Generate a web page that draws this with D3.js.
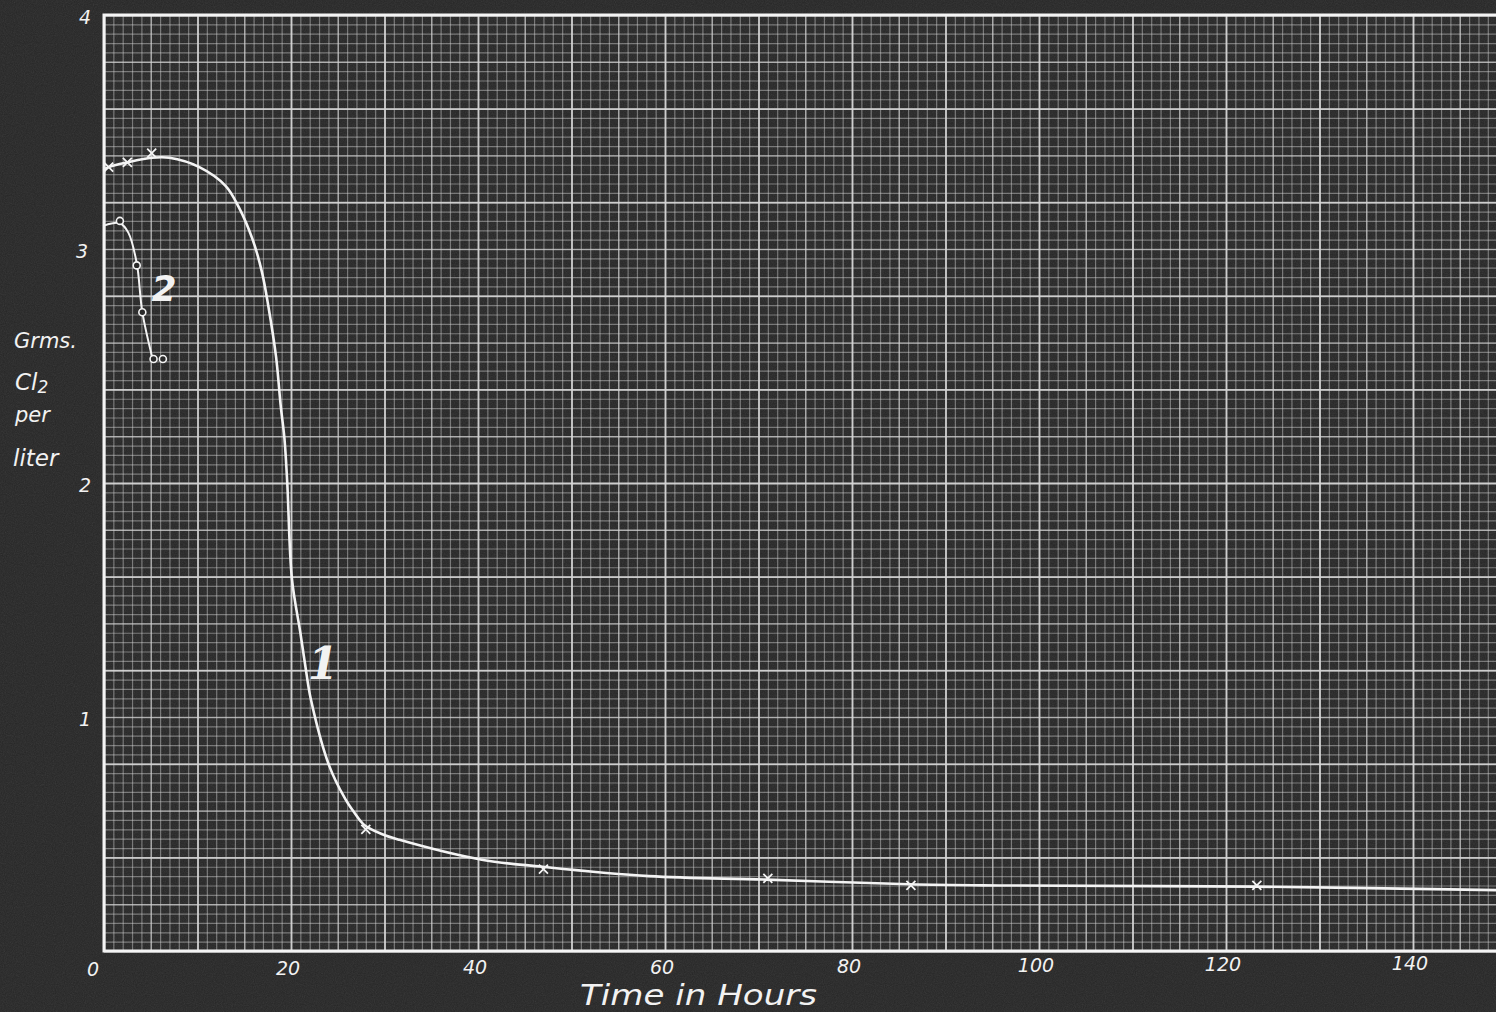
<!doctype html>
<html lang="en">
<head>
  <meta charset="utf-8">
  <script src="https://d3js.org/d3.v7.min.js"></script>
  <title>Grms. Cl2 per liter vs Time in Hours</title>
  <style>
    body { margin: 0; background: #262626; }
    svg { display: block; }
    .hand { font-family: "DejaVu Sans", sans-serif; font-style: oblique; fill: #f2f2f2; }
    .grid line { stroke: #d4d4d4; }
    .grid path { display: none; }
  </style>
</head>
<body>
  <svg id="plot" width="1496" height="1012"></svg>

  <script>
    // curve 1
    var curve1Hours = [0, 0.5, 2.5, 5.1, 7.0, 10.2, 13.0, 14.4, 15.9, 16.9, 17.6, 18.4, 18.9, 19.3, 19.6, 20.1, 21.0, 21.6, 22.1, 24.1, 25.8, 26.8, 27.8, 29.7, 31.6, 40.4, 46.9, 58.3, 70.9, 86.1, 95.7, 123.3, 149];
    var curve1Cl2 =   [3.34, 3.35, 3.37, 3.39, 3.39, 3.35, 3.27, 3.18, 3.04, 2.90, 2.75, 2.54, 2.33, 2.19, 2.00, 1.59, 1.36, 1.20, 1.08, 0.79, 0.65, 0.59, 0.54, 0.50, 0.475, 0.39, 0.36, 0.32, 0.305, 0.285, 0.28, 0.275, 0.26];
    // crosses on curve 1
    var marks1Hours = [0.5, 2.5, 5.1, 28, 47, 71, 86.3, 123.3];
    var marks1Cl2 =   [3.35, 3.37, 3.41, 0.52, 0.35, 0.31, 0.28, 0.28];

    // curve 2
    var curve2Hours = [0, 1.7, 2.6, 3.5, 4.1, 5.2];
    var curve2Cl2 =   [3.10, 3.11, 3.07, 2.94, 2.73, 2.53];
    // circles on curve 2
    var marks2Hours = [1.7, 3.5, 4.1, 5.3, 6.3];
    var marks2Cl2 =   [3.12, 2.93, 2.73, 2.53, 2.53];

    var xTickLabels = [0, 20, 40, 60, 80, 100, 120, 140];
    var yTickLabels = [1, 2, 3, 4];

    var svg = d3.select("#plot");

    // paper texture
    var defs = svg.append("defs");
    var f = defs.append("filter").attr("id", "grain").attr("x", 0).attr("y", 0).attr("width", "100%").attr("height", "100%");
    f.append("feTurbulence").attr("type", "fractalNoise").attr("baseFrequency", 0.9).attr("numOctaves", 2).attr("seed", 4);
    f.append("feColorMatrix").attr("type", "saturate").attr("values", 0);

    svg.append("rect").attr("width", 1496).attr("height", 1012).attr("fill", "#262626");
    svg.append("rect").attr("width", 1496).attr("height", 1012)
      .attr("filter", "url(#grain)").style("opacity", 0.12);

    var plotLeft = 104, plotTop = 15, plotBottom = 951;

    var x = d3.scaleLinear().domain([0, 150]).range([plotLeft, plotLeft + 150 * 9.35]);
    var y = d3.scaleLinear().domain([0, 4]).range([plotBottom, plotTop]);

    var plotW = 1496 - plotLeft + 20;
    var plotH = plotBottom - plotTop;

    // graph paper: fine, medium, heavy
    function vGrid(step, width, opacity) {
      svg.append("g").attr("class", "grid")
        .attr("transform", "translate(0," + plotBottom + ")")
        .call(d3.axisBottom(x).tickValues(d3.range(0, 151, step)).tickSize(-plotH).tickFormat(""))
        .selectAll("line").style("stroke-width", width).style("opacity", opacity);
    }
    function hGrid(step, width, opacity) {
      svg.append("g").attr("class", "grid")
        .attr("transform", "translate(" + plotLeft + ",0)")
        .call(d3.axisLeft(y).tickValues(d3.range(0, 4.001, step)).tickSize(-plotW).tickFormat(""))
        .selectAll("line").style("stroke-width", width).style("opacity", opacity);
    }
    vGrid(1, 1.2, 0.45);
    hGrid(0.04, 1.2, 0.45);
    vGrid(5, 1.4, 0.6);
    hGrid(0.2, 1.4, 0.6);
    vGrid(10, 1.8, 0.8);
    hGrid(0.4, 1.8, 0.8);

    // border
    svg.append("path")
      .attr("d", "M1496," + plotTop + "H" + plotLeft + "V" + plotBottom + "H1496")
      .attr("fill", "none").attr("stroke", "#f4f4f4").attr("stroke-width", 3);

    // tick labels
    svg.append("g").selectAll("text")
      .data(xTickLabels)
      .enter()
      .append("text")
        .attr("class", "hand")
        .attr("x", function (d) { return d == 0 ? x(d) - 11 : x(d) - 3; })
        .attr("y", function (d) { return 976 - d * 0.04; })
        .style("text-anchor", "middle")
        .style("font-size", "19px")
        .text(function (d) { return d; });

    svg.append("g").selectAll("text")
      .data(yTickLabels)
      .enter()
      .append("text")
        .attr("class", "hand")
        .attr("x", function (d) { return d == 3 ? 82 : 85; })
        .attr("y", function (d) { return y(d) + 9; })
        .style("text-anchor", "middle")
        .style("font-size", "19px")
        .text(function (d) { return d; });

    // axis titles
    svg.append("text").attr("class", "hand")
      .attr("x", 580).attr("y", 1005)
      .attr("textLength", 237).attr("lengthAdjust", "spacingAndGlyphs")
      .style("font-size", "29px")
      .text("Time in Hours");

    var yTitle = svg.append("g").attr("class", "hand").style("font-size", "21px");
    yTitle.append("text").attr("x", 14).attr("y", 348).text("Grms.");
    var cl = yTitle.append("text").attr("x", 15).attr("y", 390).style("font-size", "23px");
    cl.append("tspan").text("Cl");
    cl.append("tspan").attr("dy", 3).style("font-size", "17px").text("2");
    yTitle.append("text").attr("x", 15).attr("y", 422).text("per");
    yTitle.append("text").attr("x", 13).attr("y", 466).style("font-size", "23px").text("liter");

    // curves
    var line = d3.line()
      .x(function (d) { return x(d[0]); })
      .y(function (d) { return y(d[1]); })
      .curve(d3.curveCatmullRom.alpha(0.5));

    svg.append("path")
      .datum(d3.zip(curve1Hours, curve1Cl2))
      .attr("d", line)
      .attr("fill", "none").attr("stroke", "#f4f4f4").attr("stroke-width", 2.6);

    svg.append("path")
      .datum(d3.zip(curve2Hours, curve2Cl2))
      .attr("d", line)
      .attr("fill", "none").attr("stroke", "#f4f4f4").attr("stroke-width", 2);

    // markers
    svg.append("g").selectAll("path")
      .data(d3.zip(marks1Hours, marks1Cl2))
      .enter()
      .append("path")
        .attr("d", "M-4.5,-4.5L4.5,4.5M4.5,-4.5L-4.5,4.5")
        .attr("transform", function (d) { return "translate(" + x(d[0]) + "," + y(d[1]) + ")"; })
        .attr("stroke", "#f4f4f4").attr("stroke-width", 1.8);

    svg.append("g").selectAll("circle")
      .data(d3.zip(marks2Hours, marks2Cl2))
      .enter()
      .append("circle")
        .attr("cx", function (d) { return x(d[0]); })
        .attr("cy", function (d) { return y(d[1]); })
        .attr("r", 3.5)
        .attr("fill", "#2a2a2a").attr("stroke", "#f4f4f4").attr("stroke-width", 1.6);

    // curve numbers
    svg.append("text").attr("class", "hand")
      .attr("x", 164).attr("y", 301)
      .style("text-anchor", "middle").style("font-size", "36px").style("font-weight", "bold")
      .text("2");
    svg.append("text").attr("class", "hand")
      .attr("x", 323).attr("y", 679)
      .style("text-anchor", "middle").style("font-size", "44px").style("font-weight", "bold")
      .style("font-family", "'DejaVu Serif', serif")
      .text("1");
  </script>
</body>
</html>
